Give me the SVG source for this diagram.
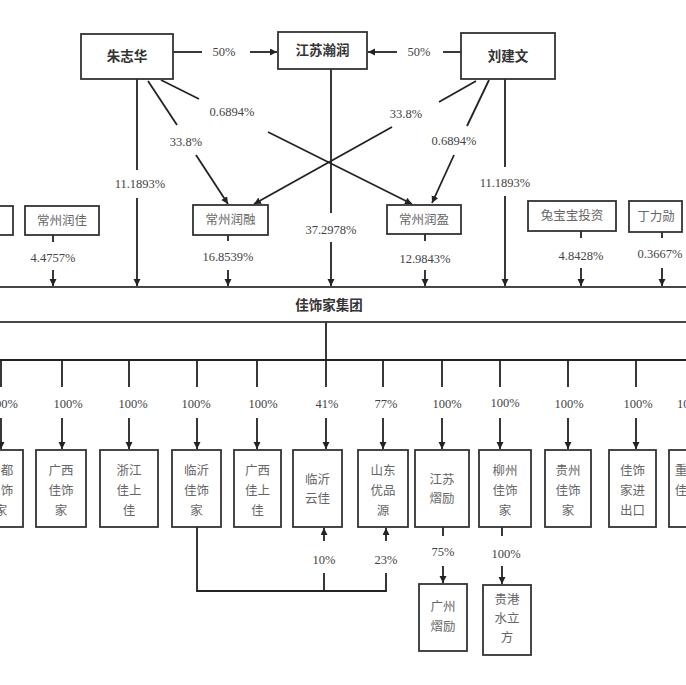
<svg xmlns="http://www.w3.org/2000/svg" width="686" height="685" viewBox="0 0 686 685">
<defs>
<marker id="ar" markerUnits="userSpaceOnUse" markerWidth="8" markerHeight="8" refX="7" refY="3.5" orient="auto">
<path d="M0,0 L7,3.5 L0,7 z" fill="#222"/>
</marker>
</defs>
<style>
.ln{stroke:#222;stroke-width:1.8;fill:none}
.a{stroke:#222;stroke-width:1.8;fill:none;marker-end:url(#ar)}
.box{fill:#fff;stroke:#333;stroke-width:1.8}
.pct{font-family:"Liberation Serif","Noto Sans CJK SC",serif;font-size:12.5px;fill:#444;text-anchor:middle;dominant-baseline:central}
.top{font-family:"Liberation Serif","Noto Sans CJK SC",serif;font-size:13.5px;font-weight:bold;fill:#333;text-anchor:middle;dominant-baseline:central}
.nm{font-family:"Liberation Serif","Noto Sans CJK SC",serif;font-size:12.5px;fill:#666;text-anchor:middle;dominant-baseline:central}
</style>
<rect width="686" height="685" fill="#fff"/>

<g id="connectors">
<!-- 50% arrows -->
<line class="ln" x1="173" y1="52" x2="202" y2="52"/>
<line class="a" x1="250" y1="52" x2="277" y2="52"/>
<line class="ln" x1="461" y1="52" x2="443" y2="52"/>
<line class="a" x1="397" y1="52" x2="368" y2="52"/>
<!-- Zhu verticals/diagonals -->
<line class="ln" x1="137" y1="79" x2="137" y2="170"/>
<line class="a" x1="137" y1="198" x2="137" y2="286"/>
<line class="ln" x1="148" y1="81" x2="177" y2="125"/>
<line class="a" x1="196" y1="155" x2="228" y2="204"/>
<line class="ln" x1="161" y1="80" x2="199" y2="99"/>
<line class="a" x1="268" y1="132" x2="412" y2="204"/>
<!-- Liu -->
<line class="ln" x1="505" y1="79" x2="505" y2="167"/>
<line class="a" x1="505" y1="196" x2="505" y2="286"/>
<line class="ln" x1="476" y1="81" x2="439" y2="102"/>
<line class="a" x1="392" y1="127" x2="254" y2="204"/>
<line class="ln" x1="489" y1="80" x2="467" y2="126"/>
<line class="a" x1="454" y1="155" x2="432" y2="203"/>
<!-- Jiangsu Hanrun -->
<line class="ln" x1="331" y1="69" x2="331" y2="213"/>
<line class="a" x1="331" y1="242" x2="331" y2="286"/>
<!-- second row stubs -->
<line class="ln" x1="53" y1="235" x2="53" y2="242"/>
<line class="a" x1="53" y1="270" x2="53" y2="286"/>
<line class="ln" x1="228" y1="235" x2="228" y2="241"/>
<line class="a" x1="228" y1="270" x2="228" y2="286"/>
<line class="ln" x1="425" y1="234" x2="425" y2="241"/>
<line class="a" x1="425" y1="270" x2="425" y2="286"/>
<line class="ln" x1="581" y1="231" x2="581" y2="238"/>
<line class="a" x1="581" y1="268" x2="581" y2="286"/>
<line class="ln" x1="662" y1="232" x2="662" y2="238"/>
<line class="a" x1="662" y1="268" x2="662" y2="286"/>
<!-- group down -->
<line class="ln" x1="326" y1="322" x2="326" y2="360"/>
<line class="ln" x1="0" y1="360" x2="686" y2="360"/>
<!-- subsidiary arrows -->
<line class="ln" x1="1" y1="360" x2="1" y2="387"/><line class="a" x1="1" y1="418" x2="1" y2="449"/>
<line class="ln" x1="62" y1="360" x2="62" y2="387"/><line class="a" x1="62" y1="418" x2="62" y2="449"/>
<line class="ln" x1="129" y1="360" x2="129" y2="387"/><line class="a" x1="129" y1="418" x2="129" y2="449"/>
<line class="ln" x1="197" y1="360" x2="197" y2="387"/><line class="a" x1="197" y1="418" x2="197" y2="449"/>
<line class="ln" x1="257" y1="360" x2="257" y2="387"/><line class="a" x1="257" y1="418" x2="257" y2="449"/>
<line class="ln" x1="326" y1="360" x2="326" y2="387"/><line class="a" x1="326" y1="418" x2="326" y2="449"/>
<line class="ln" x1="383" y1="360" x2="383" y2="387"/><line class="a" x1="383" y1="418" x2="383" y2="449"/>
<line class="ln" x1="442" y1="360" x2="442" y2="387"/><line class="a" x1="442" y1="418" x2="442" y2="449"/>
<line class="ln" x1="500" y1="360" x2="500" y2="387"/><line class="a" x1="500" y1="418" x2="500" y2="449"/>
<line class="ln" x1="568" y1="360" x2="568" y2="387"/><line class="a" x1="568" y1="418" x2="568" y2="449"/>
<line class="ln" x1="636" y1="360" x2="636" y2="387"/><line class="a" x1="636" y1="418" x2="636" y2="449"/>
<!-- bottom -->
<path class="ln" d="M197,527 V591 H386 V573"/>
<line class="ln" x1="324" y1="591" x2="324" y2="573"/>
<line class="a" x1="324" y1="541" x2="324" y2="528"/>
<line class="a" x1="386" y1="541" x2="386" y2="528"/>
<line class="ln" x1="443" y1="527" x2="443" y2="536"/>
<line class="a" x1="443" y1="566" x2="443" y2="583"/>
<line class="ln" x1="502" y1="527" x2="502" y2="536"/>
<line class="a" x1="502" y1="566" x2="502" y2="584"/>
</g>

<g id="labels">
<text class="pct" x="224" y="52">50%</text>
<text class="pct" x="419" y="52">50%</text>
<text class="pct" x="232" y="112">0.6894%</text>
<text class="pct" x="186" y="142">33.8%</text>
<text class="pct" x="140" y="184">11.1893%</text>
<text class="pct" x="406" y="114">33.8%</text>
<text class="pct" x="454" y="141">0.6894%</text>
<text class="pct" x="505" y="183">11.1893%</text>
<text class="pct" x="331" y="230">37.2978%</text>
<text class="pct" x="53" y="258">4.4757%</text>
<text class="pct" x="228" y="257">16.8539%</text>
<text class="pct" x="425" y="259">12.9843%</text>
<text class="pct" x="581" y="256">4.8428%</text>
<text class="pct" x="660" y="254">0.3667%</text>
<text class="pct" x="18" y="404" text-anchor="end" style="text-anchor:end">00%</text>
<text class="pct" x="68" y="404">100%</text>
<text class="pct" x="133" y="404">100%</text>
<text class="pct" x="196" y="404">100%</text>
<text class="pct" x="263" y="404">100%</text>
<text class="pct" x="327" y="404">41%</text>
<text class="pct" x="386" y="404">77%</text>
<text class="pct" x="447" y="404">100%</text>
<text class="pct" x="505" y="403">100%</text>
<text class="pct" x="569" y="404">100%</text>
<text class="pct" x="638" y="404">100%</text>
<text class="pct" x="677" y="404" style="text-anchor:start">10</text>
<text class="pct" x="324" y="560">10%</text>
<text class="pct" x="386" y="560">23%</text>
<text class="pct" x="443" y="552">75%</text>
<text class="pct" x="506" y="554">100%</text>
</g>

<g id="n-zhu"><rect class="box" x="81" y="34" width="92" height="45"/><text class="top" x="127" y="56">朱志华</text></g>
<g id="n-hanrun"><rect class="box" x="278" y="32" width="89" height="37"/><text class="top" x="322.5" y="50.5">江苏瀚润</text></g>
<g id="n-liu"><rect class="box" x="461" y="33" width="94" height="46"/><text class="top" x="508" y="56">刘建文</text></g>

<g id="n-left"><rect class="box" x="-30" y="206" width="43" height="29"/></g>
<g id="n-runjia"><rect class="box" x="25" y="206" width="74" height="29"/><text class="nm" x="62" y="220.5">常州润佳</text></g>
<g id="n-runrong"><rect class="box" x="193" y="205" width="75" height="30"/><text class="nm" x="230.5" y="220">常州润融</text></g>
<g id="n-runying"><rect class="box" x="387" y="205" width="74" height="29"/><text class="nm" x="424" y="219.5">常州润盈</text></g>
<g id="n-tbb"><rect class="box" x="528" y="201" width="88" height="30"/><text class="nm" x="572" y="216">兔宝宝投资</text></g>
<g id="n-ding"><rect class="box" x="629" y="201" width="53" height="31"/><text class="nm" x="656" y="216.5">丁力勋</text></g>

<g id="n-group"><rect class="box" x="-5" y="287" width="696" height="35"/><text class="top" x="329" y="305">佳饰家集团</text></g>

<g id="s1"><rect class="box" x="-25" y="450" width="48" height="77"/><text class="nm" x="7" y="471">都</text><text class="nm" x="7" y="491">饰</text><text class="nm" x="1" y="511">家</text></g>
<g id="s2"><rect class="box" x="36" y="450" width="50" height="77"/><text class="nm" x="61" y="471">广西</text><text class="nm" x="61" y="491">佳饰</text><text class="nm" x="61" y="511">家</text></g>
<g id="s3"><rect class="box" x="100" y="450" width="58" height="77"/><text class="nm" x="129" y="471">浙江</text><text class="nm" x="129" y="491">佳上</text><text class="nm" x="129" y="511">佳</text></g>
<g id="s4"><rect class="box" x="172" y="450" width="49" height="77"/><text class="nm" x="196.5" y="471">临沂</text><text class="nm" x="196.5" y="491">佳饰</text><text class="nm" x="196.5" y="511">家</text></g>
<g id="s5"><rect class="box" x="234" y="450" width="47" height="77"/><text class="nm" x="257.5" y="471">广西</text><text class="nm" x="257.5" y="491">佳上</text><text class="nm" x="257.5" y="511">佳</text></g>
<g id="s6"><rect class="box" x="293" y="450" width="49" height="77"/><text class="nm" x="317.5" y="480">临沂</text><text class="nm" x="317.5" y="499">云佳</text></g>
<g id="s7"><rect class="box" x="358" y="450" width="50" height="77"/><text class="nm" x="383" y="471">山东</text><text class="nm" x="383" y="491">优品</text><text class="nm" x="383" y="511">源</text></g>
<g id="s8"><rect class="box" x="415" y="450" width="54" height="77"/><text class="nm" x="442" y="480">江苏</text><text class="nm" x="442" y="499">熠励</text></g>
<g id="s9"><rect class="box" x="479" y="450" width="52" height="77"/><text class="nm" x="505" y="471">柳州</text><text class="nm" x="505" y="491">佳饰</text><text class="nm" x="505" y="511">家</text></g>
<g id="s10"><rect class="box" x="545" y="450" width="46" height="77"/><text class="nm" x="568" y="471">贵州</text><text class="nm" x="568" y="491">佳饰</text><text class="nm" x="568" y="511">家</text></g>
<g id="s11"><rect class="box" x="609" y="450" width="47" height="77"/><text class="nm" x="632.5" y="471">佳饰</text><text class="nm" x="632.5" y="491">家进</text><text class="nm" x="632.5" y="511">出口</text></g>
<g id="s12"><rect class="box" x="669" y="450" width="50" height="77"/><text class="nm" x="681" y="471">重</text><text class="nm" x="681" y="491">佳</text></g>

<g id="s13"><rect class="box" x="419" y="584" width="48" height="67"/><text class="nm" x="443" y="607">广州</text><text class="nm" x="443" y="627">熠励</text></g>
<g id="s14"><rect class="box" x="483" y="585" width="48" height="70"/><text class="nm" x="507" y="600">贵港</text><text class="nm" x="507" y="619">水立</text><text class="nm" x="507" y="638">方</text></g>
</svg>
